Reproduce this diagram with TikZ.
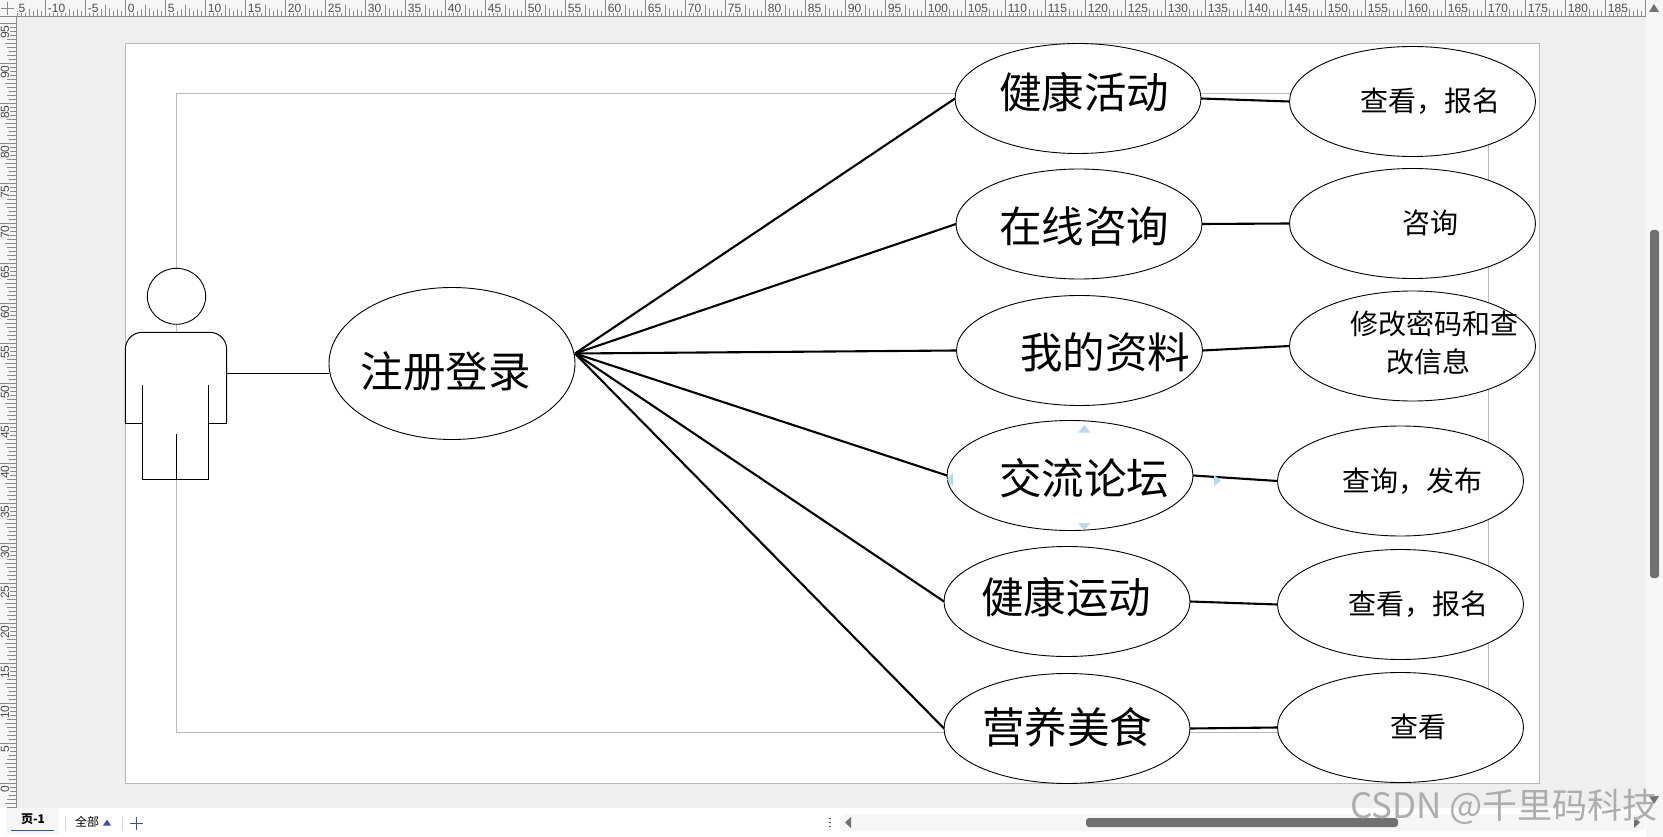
\documentclass[tikz,border=0pt]{standalone}
\usepackage{fontspec}
\setmainfont{Noto Sans CJK SC}
\newfontfamily\rulerfont{Liberation Sans}
\usetikzlibrary{positioning, calc, shapes.geometric}

\definecolor{deskgray}{HTML}{EFEFEF}
\definecolor{barwhite}{HTML}{F6F6F6}
\definecolor{pagegray}{HTML}{B8B8BC}
\definecolor{rulergray}{HTML}{8A8A8A}
\definecolor{thumbgray}{HTML}{707070}
\definecolor{handleblue}{HTML}{B5D9EE}
\definecolor{tabblue}{HTML}{2F55A4}

\begin{document}
\begin{tikzpicture}[
    x=1pt, y=-1pt,
    usecase/.style={
        draw=black,
        fill=white,
        ellipse,
        line width=0.9pt,
        inner sep=0pt,
        outer sep=0pt,
        minimum width=\cw pt,
        minimum height=\ch pt
    },
    bigtext/.style={font=\fontsize{42.5}{46}\selectfont, inner sep=0pt},
    smalltext/.style={font=\fontsize{28}{37.5}\selectfont, inner sep=0pt, align=center},
    link/.style={line width=2.1pt},
    pageline/.style={draw=pagegray, line width=1pt},
    innerline/.style={draw=pagegray, line width=0.8pt},
    actorline/.style={line width=1pt},
    tick/.style={draw=rulergray, line width=1pt},
    handle/.style={fill=handleblue, draw=none},
    uitext/.style={font=\fontsize{12}{14}\selectfont, inner sep=0pt},
    rulertext/.style={font=\fontsize{12}{14}\selectfont\rulerfont, text=black!70, fill=barwhite, inner sep=0.5pt},
]

% Geometry parameters
\def\cw{246}    % use case width
\def\ch{110}    % use case height

% Window background
\useasboundingbox (0,0) rectangle (1663,837);
\fill[white] (0,0) rectangle (1663,837);
\fill[deskgray] (17,17) rectangle (1646,808);
\fill[barwhite] (0,0) rectangle (1663,16.5);
\fill[barwhite] (0,0) rectangle (16.5,808);
\fill[barwhite] (1646,0) rectangle (1663,837);

% Top ruler
\begin{scope}
  \clip (17,0) rectangle (1646,17);
  \foreach \i in {-28,...,380} {
    \pgfmathsetmacro{\tx}{125.7+4*\i}
    \pgfmathtruncatemacro{\tenth}{mod(abs(\i),10)}
    \pgfmathsetmacro{\ty}{\tenth==0 ? 0 : (\tenth==5 ? 5 : (mod(abs(\i),2)==0 ? 9 : 11))}
    \draw[tick] (\tx,\ty) -- (\tx,16);
  }
  \foreach \n in {-15,-10,...,185} {
    \pgfmathsetmacro{\tx}{125.7+8*\n}
    \node[rulertext, anchor=west] (top\n) at (\tx+1.5,8) {\n};
  }
\end{scope}
\draw[tick] (0,16.5) -- (1646,16.5);

% Left ruler
\begin{scope}
  \clip (0,17) rectangle (17,808);
  \foreach \i in {-6,...,190} {
    \pgfmathsetmacro{\ty}{783.3-4*\i}
    \pgfmathtruncatemacro{\tenth}{mod(abs(\i),10)}
    \pgfmathsetmacro{\tx}{\tenth==0 ? 0 : (\tenth==5 ? 5 : (mod(abs(\i),2)==0 ? 7 : 9))}
    \draw[tick] (\tx,\ty) -- (16,\ty);
  }
  \foreach \n in {0,5,...,95} {
    \pgfmathsetmacro{\ty}{783.3-8*\n}
    \node[rulertext, rotate=90, anchor=east] (left\n) at (5,\ty+1.5) {\n};
  }
\end{scope}
\draw[tick] (16.5,17) -- (16.5,808);
\draw[tick] (1,9) -- (14,9);
\draw[tick] (7,2) -- (7,15);

% Page and diagram frame
\draw[pageline, fill=white] (125.5,43.5) rectangle (1539.5,783.3);
\draw[innerline] (176.5,93.5) rectangle (1488,732);

% Actor
\node[usecase, minimum width=58.4pt, minimum height=56pt] (head) at (176.5,296.3) {};
\draw[actorline, fill=white, rounded corners=17pt]
    (125.3,423.3) -- (125.3,332.3) -- (226.7,332.3) -- (226.7,423.3);
\fill[white] (127,400) rectangle (225,423);
\draw[actorline, fill=white]
    (125.3,380) -- (125.3,423.3) -- (142.3,423.3) -- (142.3,479.3)
    -- (208.3,479.3) -- (208.3,423.3) -- (226.7,423.3) -- (226.7,380);
\draw[actorline] (142.3,385) -- (142.3,423.3);
\draw[actorline] (208.3,385) -- (208.3,423.3);
\draw[actorline] (176.5,434) -- (176.5,479.3);
\coordinate (hand) at (226.7,373.3);

% Use cases, login first
\node[usecase, minimum width=246pt, minimum height=152pt] (login) at (452,363.5) {};
\coordinate (fan) at ($(login.east)+(0,-10)$);
\node[usecase] (activity) at (1078,98.5) {};
\node[usecase] (consult) at (1079,224) {};
\node[usecase] (profile) at (1079.5,350.5) {};
\node[usecase] (forum) at (1070,475.5) {};
\node[usecase] (sport) at (1067,601.5) {};
\node[usecase] (food) at (1067,728.5) {};

\node[usecase] (activityview) at (1412.5,101.5) {};
\node[usecase] (consultask) at (1412.5,223.5) {};
\node[usecase] (profileedit) at (1412.5,346) {};
\node[usecase] (forumpost) at (1400.5,481) {};
\node[usecase] (sportview) at (1400.5,604.5) {};
\node[usecase] (foodview) at (1400.5,727.5) {};

% Connectors
\draw[actorline] (hand) -- (login.west |- hand);
\foreach \c in {activity,consult,profile,forum,sport,food} {
  \draw[link] (fan) -- (\c.west);
}
\foreach \a/\b in {activity/activityview,consult/consultask,profile/profileedit,
                   forum/forumpost,sport/sportview,food/foodview} {
  \draw[link] (\a.east) -- (\b.west);
}

% Labels
\node[bigtext] (logintext) at (445.5,371) {注册登录};
\node[bigtext] (activitytext) at (1084,92) {健康活动};
\node[bigtext] (consulttext) at (1084,227) {在线咨询};
\node[bigtext] (profiletext) at (1105,352) {我的资料};
\node[bigtext] (forumtext) at (1084,478) {交流论坛};
\node[bigtext] (sporttext) at (1066,597) {健康运动};
\node[bigtext] (foodtext) at (1067,727) {营养美食};

\node[smalltext] (activityviewtext) at (1430,101) {查看，报名};
\node[smalltext] (consultasktext) at (1430,223) {咨询};
\node[smalltext] (profileedittext) at (1434,343) {修改密码和查\\\mbox{改信息\hspace{12pt}}};
\node[smalltext] (forumposttext) at (1412.7,481) {查询，发布};
\node[smalltext] (sportviewtext) at (1418,604) {查看，报名};
\node[smalltext] (foodviewtext) at (1418,727) {查看};

% Selection handles
\fill[handle] (1084.3,425) -- (1090.5,432.7) -- (1078,432.7) -- cycle;
\fill[handle] (1084.3,530) -- (1090.5,523) -- (1078,523) -- cycle;
\fill[handle] (947,479.5) -- (953,473) -- (953,486) -- cycle;
\fill[handle] (1221,480.5) -- (1214,475) -- (1214,486) -- cycle;

% Scroll bars and tabs
\fill[thumbgray, rounded corners=3pt] (1650,230) rectangle (1659,578);
\fill[thumbgray] (1654,4) -- (1659,12) -- (1649,12) -- cycle;
\fill[thumbgray] (1654,804) -- (1659,796) -- (1649,796) -- cycle;
\fill[barwhite, rounded corners=5pt] (840,814) rectangle (1645,831);
\fill[thumbgray, rounded corners=3pt] (1086,818) rectangle (1398,827);
\fill[thumbgray] (845,822.5) -- (851,817) -- (851,828) -- cycle;
\fill[thumbgray] (1640,822.5) -- (1634,817) -- (1634,828) -- cycle;
\foreach \dy in {-4,0,4} {
  \fill[black!80] (830,822.5+\dy) circle (0.9);
}
\fill[barwhite, rounded corners=2pt] (6,808) rectangle (59,834);
\draw[tabblue, line width=1pt] (11,830) -- (54,830);
\node[uitext, font=\fontsize{12}{14}\selectfont\bfseries] (pagetab) at (33,819.5) {页-1};
\draw[black!15, line width=1pt] (65.7,816) -- (65.7,831);
\node[uitext] (alltab) at (87,822) {全部};
\fill[tabblue] (107,819.5) -- (111,825.5) -- (103,825.5) -- cycle;
\draw[black!15, line width=1pt] (122.7,816) -- (122.7,831);
\draw[tabblue, line width=1pt] (130,823) -- (143,823);
\draw[tabblue, line width=1pt] (136.5,816.5) -- (136.5,829.5);

% Watermark
\node[font=\fontsize{35}{38}\selectfont, text=black!32, anchor=east, inner sep=0pt] (mark) at (1658,807) {CSDN @千里码科技};

\end{tikzpicture}
\end{document}
